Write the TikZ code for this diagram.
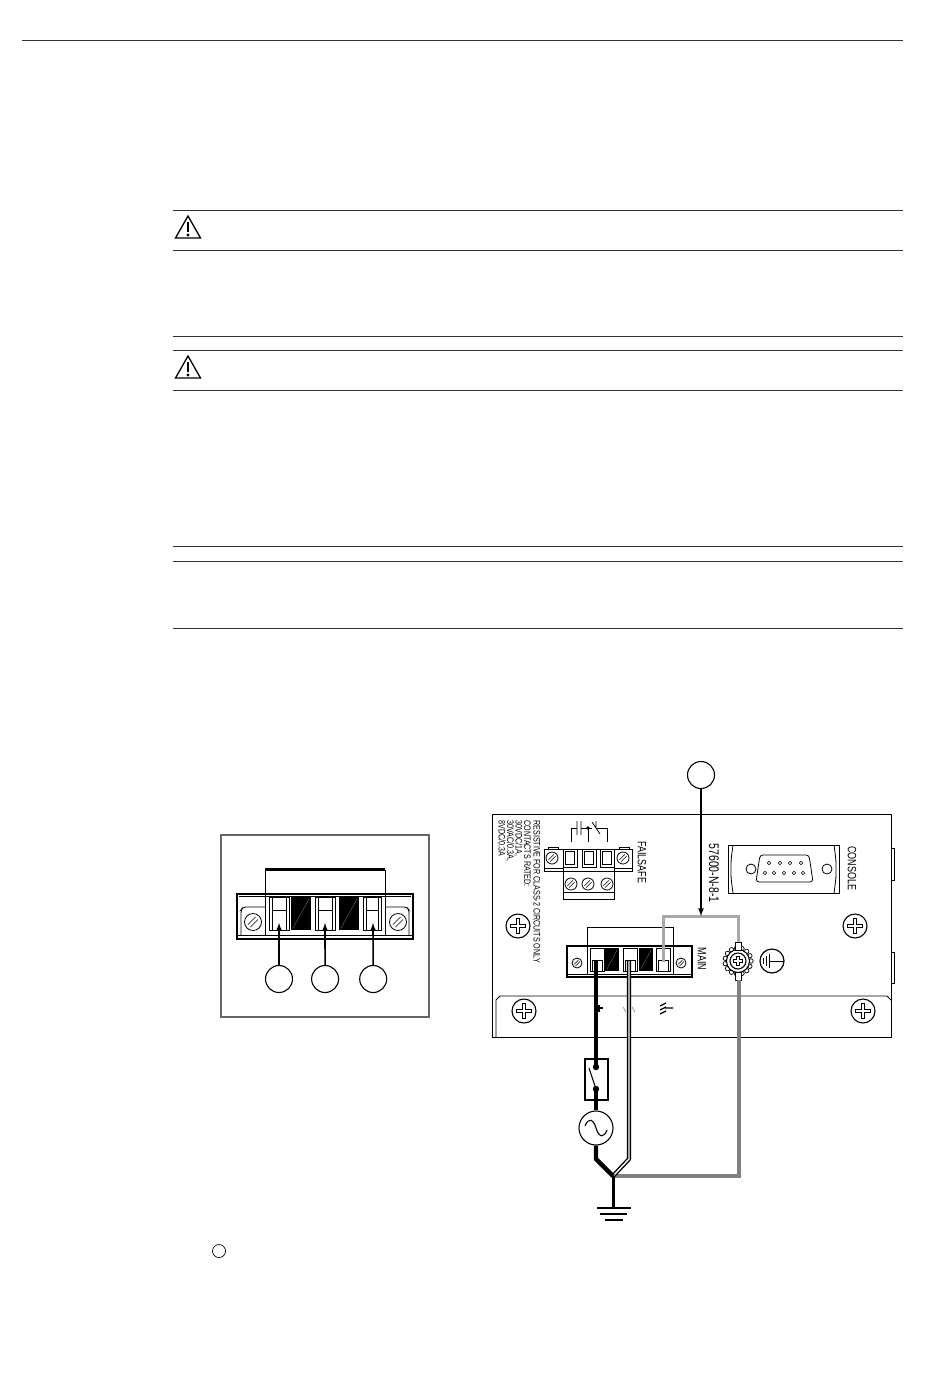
\documentclass[tikz,border=0pt]{standalone}
\usepackage{fontspec}
\setmainfont{Liberation Sans}
\newfontfamily\panelfont[FakeStretch=0.75]{Liberation Sans}
\usetikzlibrary{arrows, positioning}

\definecolor{rulegray}{HTML}{333333}
\definecolor{framegray}{HTML}{666666}
\definecolor{wirelight}{HTML}{A8A8A8}
\definecolor{wiredark}{HTML}{808080}

\tikzset{
    hairline/.style={rulegray, line width=1pt},
    tag/.style={circle, draw, line width=1.1pt, minimum size=27pt, inner sep=0pt},
    paneltext/.style={rotate=-90, inner sep=0pt, font=\panelfont\fontsize{12}{12}\selectfont},
    ratingtext/.style={rotate=-90, anchor=west, inner sep=0pt, font=\panelfont\fontsize{9.5}{9.5}\selectfont},
    pointer/.style={-latex, line width=1.6pt},
    livewire/.style={line width=4.4pt},
    pics/slotted/.style={code={
        \draw[line width=.8pt] (0,0) circle (#1);
        \draw[line width=.6pt] ({-.6*#1},{.3*#1}) -- ({.3*#1},{-.6*#1});
        \draw[line width=.6pt] ({-.3*#1},{.6*#1}) -- ({.6*#1},{-.3*#1});
    }},
    pics/crosshead/.style={code={
        \draw[line width=1.1pt] (0,0) circle (#1);
        \draw[line width=3.6pt] ({-.65*#1},0) -- ({.65*#1},0) (0,{-.65*#1}) -- (0,{.65*#1});
        \draw[white, line width=1.3pt] ({-.55*#1},0) -- ({.55*#1},0) (0,{-.55*#1}) -- (0,{.55*#1});
    }},
    pics/alert/.style={code={
        \draw[line width=1.3pt, line join=miter] (0,0) -- (12.5,22) -- (-12.5,22) -- cycle;
        \draw[line width=2.6pt] (0,6) -- (0,16);
        \fill (0,19) circle (1.6);
    }},
}

\begin{document}
\begin{tikzpicture}[x=1pt, y=-1pt, line width=.8pt]
    \useasboundingbox (0,0) rectangle (950,1387);
    \fill[white] (0,0) rectangle (950,1387);

    % page rules
    \draw[hairline] (22,40) -- (903,40);
    \foreach \ypos in {210,250,336,350,390,546,561,628}
        \draw[hairline] (173,\ypos) -- (903,\ypos);
    \pic at (188,216) {alert};
    \pic at (188,356) {alert};
    \node[circle, draw, line width=.7pt, minimum size=13pt, inner sep=0pt] (note) at (219,1251) {};

    % left detail
    \draw[framegray, line width=2pt] (221,835) rectangle (429,1017);
    \draw[line width=1pt] (265,870) rectangle (385,894);
    \draw[line width=2.4pt] (265,869) -- (385,869);
    \draw[line width=1.2pt] (237,894) rectangle (413,939);
    \draw (239,896) -- (411,896) (238,935) -- (412,935);
    \draw[rounded corners=3pt] (265,907) -- (243,907) -- (241,910) -- (241,935);
    \draw[rounded corners=3pt] (385,907) -- (407,907) -- (409,910) -- (409,935);
    \draw (265,894) -- (265,935) (385,894) -- (385,935);
    \pic at (253,922) {slotted=8.5};
    \pic at (398,922) {slotted=8.5};
    \foreach \xpos/\xwide in {269/20,315/20,363/18} {
        \draw[line width=1pt] (\xpos,897) rectangle ++(\xwide,33);
        \draw (\xpos+3,897) -- (\xpos+3,910) (\xpos+\xwide-3,897) -- (\xpos+\xwide-3,910);
        \draw[line width=1pt] (\xpos+3,910) rectangle (\xpos+\xwide-3,930);
    }
    \foreach \xpos in {291,339} {
        \fill (\xpos,897) rectangle ++(20,33);
        \draw[gray, line width=.3pt] (\xpos+2,928) -- (\xpos+18,899);
    }
    \node[tag] (one) at (279,979) {};
    \node[tag, right = 18pt of one] (two) {};
    \node[tag, right = 20pt of two] (three) {};
    \coordinate (slotone) at (279,923);
    \coordinate (slottwo) at (325,923);
    \coordinate (slotthree) at (373,923);
    \path[pointer] (one) edge (slotone);
    \path[pointer] (two) edge (slottwo);
    \path[pointer] (three) edge (slotthree);

    % panel
    \draw[line width=.9pt] (492,814) rectangle (891,1037);
    \draw[line width=.8pt] (496,1037) -- (496,1000) -- (500,996) -- (887,996) -- (891,1000);
    \draw (891,848) -- (894,848) -- (894,880) -- (891,880);
    \draw (891,952) -- (894,952) -- (894,983) -- (891,983);
    \pic at (518,926) {crosshead=12};
    \pic at (855,926) {crosshead=12};
    \pic at (524,1011) {crosshead=12};
    \pic at (863,1011) {crosshead=12};
    \node[ratingtext] (ratinga) at (537,820) {RESISTIVE FOR CLASS-2 CIRCUITS ONLY};
    \node[ratingtext] (ratingb) at (527.5,820) {CONTACTS RATED:};
    \node[ratingtext] (ratingc) at (518.5,820) {30VDC/1A,};
    \node[ratingtext] (ratingd) at (510,820) {30VAC/0.3A,};
    \node[ratingtext] (ratinge) at (502,820) {8VDC/0.3A};
    \node[paneltext] (failsafe) at (642,862) {FAILSAFE};
    \node[paneltext] (main) at (702,959) {MAIN};
    \node[paneltext] (console) at (852,868) {CONSOLE};
    \node[rotate=-90, inner sep=0pt, font=\panelfont\fontsize{14}{14}\selectfont] (baud) at (714,873) {57600-N-8-1};

    % failsafe connector
    \draw[line width=1pt] (544,849) rectangle (632,871);
    \draw (544,868) -- (563,868) (614,868) -- (632,868);
    \draw (548,849) -- (548,847) -- (558,847) -- (558,849);
    \draw (619,849) -- (619,847) -- (629,847) -- (629,849);
    \draw[line width=1pt] (563,849) rectangle (614,899);
    \draw (563,892) -- (614,892);
    \foreach \xpos in {563,582,600} {
        \draw[line width=1pt] (\xpos,849) rectangle ++(14,18);
        \draw (\xpos+2.5,851.5) rectangle ++(9,13);
    }
    \pic at (552,858) {slotted=6};
    \pic at (623,858) {slotted=6};
    \pic at (571,884) {slotted=6};
    \pic at (588,884) {slotted=6};
    \pic at (607,884) {slotted=6};
    \draw[line width=.6pt] (571,842) -- (571,828) -- (577,828) (581,828) -- (592,828) (596,828) -- (607,828) -- (607,842) (588,828) -- (588,842);
    \draw[line width=.8pt] (577,821) -- (577,835) (581,821) -- (581,835) (596,821) -- (596,828) (592,822) -- (600,834);
    \fill (588,828) circle (1.8);

    % console connector
    \draw[line width=1pt] (728,845) rectangle (839,893);
    \draw[rounded corners=4pt] (733,845) -- (731,860) -- (731,878) -- (733,893);
    \draw[rounded corners=4pt] (834,845) -- (836,860) -- (836,878) -- (834,893);
    \draw (751,869) circle (5);
    \draw (827,869) circle (5);
    \draw[rounded corners=3pt] (760,855) -- (809,855) -- (813,882) -- (756,882) -- cycle;
    \foreach \xpos in {769,780,790,801}
        \draw[line width=.6pt] (\xpos,863) circle (1.8);
    \foreach \xpos in {765,774,784,794,803}
        \draw[line width=.6pt] (\xpos,873) circle (1.8);

    % main connector
    \draw[line width=1pt] (587,927) rectangle (673,946);
    \draw[line width=1.2pt] (567,946) rectangle (692,977);
    \draw (568,974) -- (691,974) (587,946) -- (587,974) (673,946) -- (673,974);
    \pic at (577,963) {slotted=5};
    \pic at (681,963) {slotted=5};
    \foreach \xpos in {590,623,656} {
        \draw[line width=1pt] (\xpos,948) rectangle ++(14,23);
        \draw (\xpos+2,960) rectangle ++(10,11);
    }
    \foreach \xpos in {605,639} {
        \fill (\xpos,948) rectangle ++(13.5,23);
        \draw[gray, line width=.3pt] (\xpos+2,969) -- (\xpos+12,950);
    }

    % ground stud
    \foreach \angle in {0,24,...,336}
        \draw[line width=.7pt, fill=white] (738,961) ++(\angle:13) circle (2.2);
    \draw[line width=1pt, fill=white] (738,961) circle (11.5);
    \pic at (738,961) {crosshead=8};
    \draw[fill=white] (735,942) rectangle (741,950);
    \draw[fill=white] (735,972) rectangle (741,980);
    \node[circle, draw, line width=1.2pt, minimum size=24pt, inner sep=0pt] (earth) at (772,961) {};
    \draw[line width=1pt] (769,961) -- (784,961) (769,954) -- (769,968) (766,956) -- (766,966) (763,958) -- (763,964);

    % marks by the terminals
    \draw[line width=1.2pt] (599,1005) -- (599,1012) (596,1008) -- (603,1008);
    \draw[gray, line width=.6pt] (623,1007) -- (626,1012) (632,1007) -- (635,1012);
    \draw[line width=1.2pt] (660,1006) -- (666,1003) (660,1010) -- (666,1007) (660,1014) -- (666,1011) (665,1008) -- (673,1008);

    % wiring
    \coordinate (plusend) at (596,961);
    \coordinate (neutralend) at (629,961);
    \coordinate (fgend) at (663,962);
    \coordinate (studtop) at (738,942);
    \coordinate (studbottom) at (739,980);
    \coordinate (joint) at (613,1176);
    \coordinate (topjog) at (701,916);

    \node[tag] (wtag) at (701,775) {};
    \draw[wirelight, line width=3pt, line join=miter] (fgend) |- (topjog) -| (studtop);
    \path[pointer] (wtag) edge (topjog);

    \node[circle, draw, line width=1.1pt, minimum size=34pt, inner sep=0pt] (source) at (596,1128) {};
    \draw[line width=1.1pt] (585,1126) .. controls (588,1118) and (593,1118) .. (596,1128) .. controls (599,1138) and (604,1138) .. (607,1130);
    \draw[line width=1.1pt] (585,1059) rectangle (608,1100);
    \coordinate (contacta) at (596,1067);
    \coordinate (contactb) at (596,1089);
    \draw[line width=1pt] (589,1068) -- (596,1089);

    \draw[wiredark, line width=4pt, line join=miter] (studbottom) |- (joint);
    \draw[line width=4.2pt, line join=round] (neutralend) -- (629,1159) -- (joint);
    \draw[white, line width=1.4pt, line join=round] (neutralend) -- (629,1159) -- (joint);
    \draw[livewire] (plusend) -- (contacta);
    \fill (contacta) circle (3.2);
    \fill (contactb) circle (3.2);
    \draw[livewire] (contactb) -- (source);
    \draw[livewire, line join=round] (source) -- (596,1159) -- (joint);

    \coordinate (earthbar) at (613,1208);
    \draw[line width=3pt] (joint) -- (earthbar);
    \draw[line width=1.6pt] (597,1208) -- (631,1208) (600,1214) -- (627,1214) (605,1220) -- (623,1220);
\end{tikzpicture}
\end{document}
